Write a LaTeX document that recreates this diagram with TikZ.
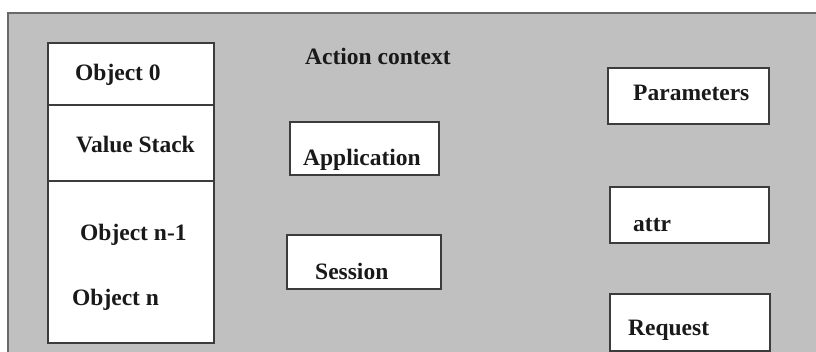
\documentclass[tikz,border=0pt]{standalone}
\usepackage{fontspec}
\setmainfont{Liberation Serif}
\definecolor{panel}{RGB}{192,192,192}
\definecolor{frame}{RGB}{105,105,105}
\definecolor{boxline}{RGB}{60,60,60}
\begin{document}
\begin{tikzpicture}[x=1pt,y=-1pt,
  box/.style={draw=boxline, line width=1.6pt, fill=white, inner sep=0pt, anchor=north west},
  lbl/.style={font=\fontsize{23.5}{27}\selectfont\bfseries, inner sep=0pt, anchor=base west, text=black!90}]
\useasboundingbox (0,0) rectangle (816,352);
\fill[white] (0,0) rectangle (816,352);
% grey context panel
\fill[panel] (8,13) rectangle (816,352);
\draw[frame, line width=2pt] (8,352) -- (8,13) -- (816,13);

% value stack
\node[box, minimum width=166pt, minimum height=300pt] (stack) at (47,42) {};
\coordinate (d1) at (0,105);
\coordinate (d2) at (0,181);
\draw[boxline, line width=1.6pt] (stack.west |- d1) -- (stack.east |- d1);
\draw[boxline, line width=1.6pt] (stack.west |- d2) -- (stack.east |- d2);
\node[lbl] (obj0) at (75,81) {Object 0};
\node[lbl] (vstack) at (76,153) {Value Stack};
\node[lbl] (objn1) at (80,241) {Object n-1};
\node[lbl] (objn) at (72,306) {Object n};

% action context
\node[lbl] (ctx) at (305,65) {Action context};
\node[box, minimum width=149pt, minimum height=53pt] (app) at (289,121) {};
\node[lbl] (applbl) at (303,166) {Application};
\node[box, minimum width=154pt, minimum height=54pt] (sess) at (286,234) {};
\node[lbl] (sesslbl) at (315,280) {Session};

% right column
\node[box, minimum width=161pt, minimum height=56pt] (par) at (607,67) {};
\node[lbl] (parlbl) at (633,101) {Parameters};
\node[box, minimum width=159pt, minimum height=56pt] (attr) at (609,186) {};
\node[lbl] (attrlbl) at (633,232) {attr};
\node[box, minimum width=160pt, minimum height=57pt] (req) at (609,293) {};
\node[lbl] (reqlbl) at (628,336) {Request};
\end{tikzpicture}
\end{document}
